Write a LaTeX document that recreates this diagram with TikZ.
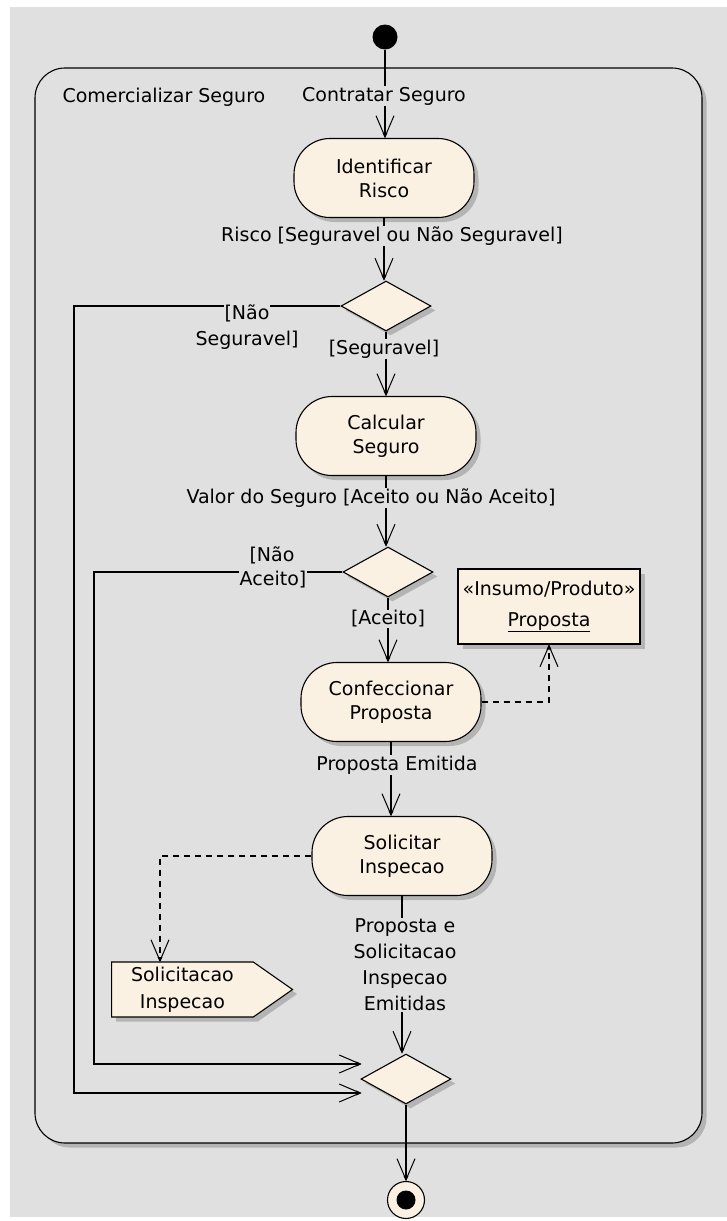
\documentclass[tikz,border=0pt]{standalone}
\usepackage{fontspec}
\setmainfont{DejaVu Sans}
\usetikzlibrary{arrows.meta,shapes.geometric,shapes.symbols,shadows,calc}
\definecolor{bggray}{RGB}{224,224,224}
\definecolor{cream}{RGB}{251,241,227}
\definecolor{shade}{RGB}{180,180,180}
\begin{document}
\begin{tikzpicture}[x=1bp,y=-1bp,
  font=\fontsize{19bp}{24bp}\selectfont,
  line width=1.1bp,
  shadowed/.style={drop shadow={shadow xshift=4.5bp,shadow yshift=-4.5bp,fill=shade,opacity=1}},
  activity/.style={rectangle,rounded corners=36bp,draw,fill=cream,shadowed,
    minimum width=180bp,minimum height=79bp,align=center,inner sep=2bp},
  decision/.style={diamond,draw,fill=cream,shadowed,minimum width=90bp,
    minimum height=50bp,inner sep=0bp},
  flow/.style={draw=black,-{Straight Barb[length=21bp,width=18bp,line width=1bp,sep=-5bp]Triangle[length=5bp,width=4.5bp]}},
  dflow/.style={flow,dash pattern=on 6bp off 5bp},
  lbl/.style={fill=bggray,inner sep=1bp},
  txt/.style={inner sep=1bp}]

% page and canvas
\useasboundingbox (0,0) rectangle (727,1221);
\fill[white] (0,0) rectangle (727,1221);
\fill[bggray] (10,7) rectangle (727,1217);

% enclosing activity
\node[draw,fill=bggray,rounded corners=30bp,shadowed,
  minimum width=667bp,minimum height=1075bp] (act) at (368.5,605.5) {};
\node[txt,anchor=west] (actname) at (61,97) {Comercializar Seguro};

% nodes
\node[circle,fill=black,minimum size=25bp,inner sep=0bp] (init) at (385,37) {};
\node[activity] (idr) at (384,178) {Identificar\\Risco};
\node[decision] (d1) at (386,306) {};
\node[activity] (calc) at (386,436) {Calcular\\Seguro};
\node[decision] (d2) at (388,572) {};
\node[draw,fill=cream,shadowed,minimum width=182bp,minimum height=75bp,
  align=center,inner sep=2bp] (prop) at (549,606.5)
  {«Insumo/Produto»\\[7bp]\underline{Proposta}};
\node[activity] (conf) at (391,702) {Confeccionar\\Proposta};
\node[activity] (sol) at (402,856) {Solicitar\\Inspecao};
\node[signal,signal to=east,signal pointer angle=70,draw,fill=cream,shadowed,
  minimum width=181bp,minimum height=55bp,align=center,inner sep=2bp,
  font=\fontsize{19bp}{27bp}\selectfont,anchor=west] (sig) at (111,989.5)
  {Solicitacao\\Inspecao};
\node[decision] (merge) at (406,1079) {};
\node[circle,draw,fill=cream,minimum size=37bp,inner sep=0bp] (final) at (406,1200) {};
\node[circle,fill=black,minimum size=19bp,inner sep=0bp] (finaldot) at (final) {};

% helper points
\coordinate (m1) at ($(merge.west)+(1,14)$);
\coordinate (m2) at ($(merge.west)+(1,-15)$);
\coordinate (loop1) at (74,1093);
\coordinate (loop2) at (94,1064);
\coordinate (sigtop) at (160,962);

% control flows
\draw[flow] (init) -- (init |- idr.north);
\draw[flow] (idr.south) -- (idr.south |- d1.north);
\draw[flow] (d1.south) -- (d1.south |- calc.north);
\draw[flow] (calc.south) -- (calc.south |- d2.north);
\draw[flow] (d2.south) -- (d2.south |- conf.north);
\draw[flow] (conf.south) -- (conf.south |- sol.north);
\draw[flow] (sol.south) -- (sol.south |- merge.north);
\draw[flow] (merge.south) -- (final.north);
\draw[flow] (d1.west) -| (loop1) -- (m1);
\draw[flow] (d2.west) -| (loop2) -- (m2);

% object flows
\draw[dflow] (conf.east) -| (prop.south);
\draw[dflow] (sol.west) -| (sigtop);

% guards and labels
\node[lbl] (l1) at (384,96) {Contratar Seguro};
\node[lbl] (l2) at (392,236) {Risco [Seguravel ou Não Seguravel]};
\node[lbl] (l3a) at (247,313) {[Não};
\node[lbl] (l3b) at (247,340) {Seguravel]};
\node[lbl] (l4) at (384,349) {[Seguravel]};
\node[lbl] (l5) at (371,498) {Valor do Seguro [Aceito ou Não Aceito]};
\node[lbl] (l6a) at (272,555) {[Não};
\node[lbl] (l6b) at (273,580) {Aceito]};
\node[lbl] (l7) at (388,619) {[Aceito]};
\node[lbl] (l8) at (397,765) {Proposta Emitida};
\node[lbl,align=center,font=\fontsize{19bp}{26bp}\selectfont] (l9) at (405,965)
  {Proposta e\\Solicitacao\\Inspecao\\Emitidas};
\end{tikzpicture}
\end{document}
